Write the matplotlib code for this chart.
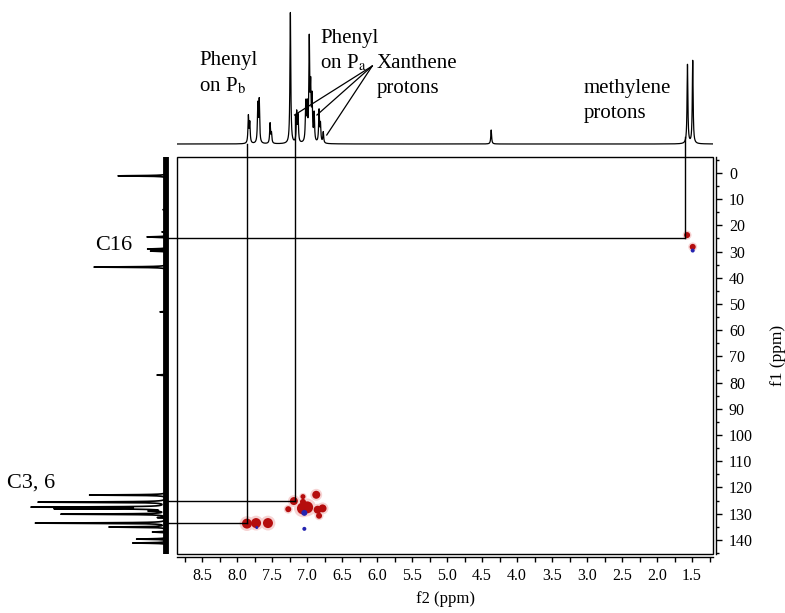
import numpy as np
import matplotlib
matplotlib.use('Agg')
import matplotlib.pyplot as plt
from matplotlib.patches import Rectangle
from matplotlib.ticker import MultipleLocator, FormatStrFormatter

plt.rcParams['font.family'] = ['Liberation Serif', 'DejaVu Serif']
plt.rcParams['mathtext.fontset'] = 'stix'

# ---------------- data ----------------
# 1H spectrum (top): peak positions (ppm) and heights (arb.)
h_ppm = [7.84, 7.82, 7.705, 7.685, 7.53, 7.51, 7.24, 7.15, 7.13, 7.02, 7.00,
         6.97, 6.95, 6.93, 6.90, 6.83, 6.81, 6.77, 4.37, 1.565, 1.49]
h_int = [27, 20, 38, 42, 20, 10, 131, 30, 26, 38, 34,
         100, 50, 42, 28, 32, 18, 11, 14, 79, 83]

# 13C spectrum (left): peak positions (ppm) and heights (arb.)
c_ppm = [1.1, 14.0, 22.5, 24.4, 29.0, 29.8, 35.9, 53.0, 77.1,
         122.9, 125.6, 127.5, 128.1, 129.0, 130.2, 131.5, 133.6, 135.1, 137.0, 139.7, 141.2]
c_int = [49, 4, 5, 20, 19, 16, 73, 7, 10,
         77, 128, 131, 107, 15, 105, 8, 131, 57, 14, 30, 34]

# HSQC cross peaks (f2 ppm, f1 ppm, radius)
pos_f2 = [7.86, 7.73, 7.56, 7.19, 7.27, 7.06, 7.00, 7.06, 7.06, 6.87, 6.85, 6.78, 6.83, 1.57, 1.49]
pos_f1 = [133.8, 133.6, 133.6, 125.2, 128.3, 128.0, 127.6, 123.5, 125.5, 122.8, 128.5, 128.0, 130.8, 23.7, 28.2]
pos_r = [5, 5, 5, 4, 3, 6, 6, 2.5, 3, 4, 4, 4, 3, 3, 3]
neg_f2 = [7.04, 7.04, 7.72, 1.49]
neg_f1 = [129.7, 135.8, 135.3, 29.6]
neg_r = [3, 2, 1.5, 2]

# correlation lines (f2, f1)
corr_f2 = [7.86, 7.18, 1.60]
corr_f1 = [133.6, 125.2, 24.8]

x_ticks = [8.5, 8.0, 7.5, 7.0, 6.5, 6.0, 5.5, 5.0, 4.5, 4.0, 3.5, 3.0, 2.5, 2.0, 1.5]
y_ticks = [0, 10, 20, 30, 40, 50, 60, 70, 80, 90, 100, 110, 120, 130, 140]

# ---------------- layout ----------------
W, H = 785, 613
fig = plt.figure(figsize=(W / 100, H / 100), dpi=100)


def px_axes(x0, y0, x1, y1):
    return fig.add_axes([x0 / W, 1 - y1 / H, (x1 - x0) / W, (y1 - y0) / H])


XL = (8.86, 1.20)
YL = (145.4, -6.1)

ax = px_axes(177, 157, 713, 554)
ax.set_xlim(*XL)
ax.set_ylim(*YL)
ax.set_facecolor('none')
for s in ['top', 'left']:
    ax.spines[s].set_visible(False)
for s in ['bottom', 'right']:
    ax.spines[s].set_position(('outward', 2.5))
    ax.spines[s].set_linewidth(1.0)
ax.add_patch(Rectangle((0, 0), 1, 1, transform=ax.transAxes, fill=False,
                       lw=1.0, ec='black', clip_on=False, zorder=5))
ax.yaxis.tick_right()
ax.yaxis.set_label_position('right')
ax.set_xticks(x_ticks)
ax.xaxis.set_major_formatter(FormatStrFormatter('%.1f'))
ax.xaxis.set_minor_locator(MultipleLocator(0.25))
ax.set_yticks(y_ticks)
ax.yaxis.set_minor_locator(MultipleLocator(5))
ax.tick_params(axis='both', which='both', direction='out', width=1.0, labelsize=11.5)
ax.tick_params(axis='x', which='both', length=3.5, pad=4)
ax.tick_params(axis='y', which='major', length=4, pad=5)
ax.tick_params(axis='y', which='minor', length=2.5)
ax.set_xlabel('f2 (ppm)', fontsize=12, labelpad=5)
ax.set_ylabel('f1 (ppm)', fontsize=12.5, labelpad=12)

# cross peaks
def s_of(r):
    return [(1.44 * v) ** 2 for v in r]

ax.scatter(pos_f2, pos_f1, s=[v * 2.2 for v in s_of(pos_r)], color='#f6d3d3', lw=0, zorder=2)
ax.scatter(pos_f2, pos_f1, s=s_of(pos_r), color='#b50d0d', lw=0, zorder=3)
ax.scatter(neg_f2, neg_f1, s=s_of(neg_r), color='#2424b0', lw=0, zorder=3)

# correlation lines
top_f1 = [-11.1, -22.1, -13.7]
for f2, f1, t in zip(corr_f2, corr_f1, top_f1):
    ax.plot([f2, f2], [f1, t], color='black', lw=1.0, clip_on=False, zorder=6)
    ax.plot([9.0, f2], [f1, f1], color='black', lw=1.0, clip_on=False, zorder=6)

# top 1H spectrum
axt = px_axes(177, 0, 713, 150)
axt.set_xlim(*XL)
axt.set_ylim(-6, 144)
axt.axis('off')
axt.patch.set_alpha(0)
xg = np.linspace(XL[0], XL[1], 30000)
yg = np.zeros_like(xg)
w = 0.007
for p, h in zip(h_ppm, h_int):
    yg += h * w ** 2 / ((xg - p) ** 2 + w ** 2)
axt.plot(xg, yg, color='black', lw=0.9)

# Xanthene annotation lines (from label to peaks), top-axes coordinates
conv = (6.07, 78)
for px_, py_ in [(7.18, 29), (6.86, 29), (6.72, 9)]:
    axt.plot([conv[0], px_], [conv[1], py_], color='black', lw=0.9, clip_on=False)

# left 13C spectrum
axl = px_axes(0, 157, 177, 554)
axl.set_xlim(167, -10)
axl.set_ylim(*YL)
axl.axis('off')
axl.patch.set_alpha(0)
fg = np.linspace(YL[1], YL[0], 30000)
ig = np.zeros_like(fg)
wc = 0.12
for p, h in zip(c_ppm, c_int):
    ig += h * wc ** 2 / ((fg - p) ** 2 + wc ** 2)
axl.plot([1.5, 1.5], [YL[1], YL[0]], color='black', lw=4.2, solid_capstyle='butt')
axl.plot(ig, fg, color='black', lw=1.2)

# labels
def ftext(x, y, s, size=15, **kw):
    fig.text(x / W, 1 - y / H, s, fontsize=size, va='center', ha='left', **kw)

ftext(199, 60, 'Phenyl')
ftext(199, 86, r'on P$_{\rm b}$')
ftext(320, 38, 'Phenyl')
ftext(320, 63, r'on P$_{\rm a}$')
ftext(377, 64, 'Xanthene')
ftext(377, 89, 'protons')
ftext(584, 88, 'methylene')
ftext(584, 113, 'protons')
ftext(95, 245, 'C16', size=16)
ftext(7, 483, 'C3, 6', size=16)

fig.savefig('out.png', dpi=100)
